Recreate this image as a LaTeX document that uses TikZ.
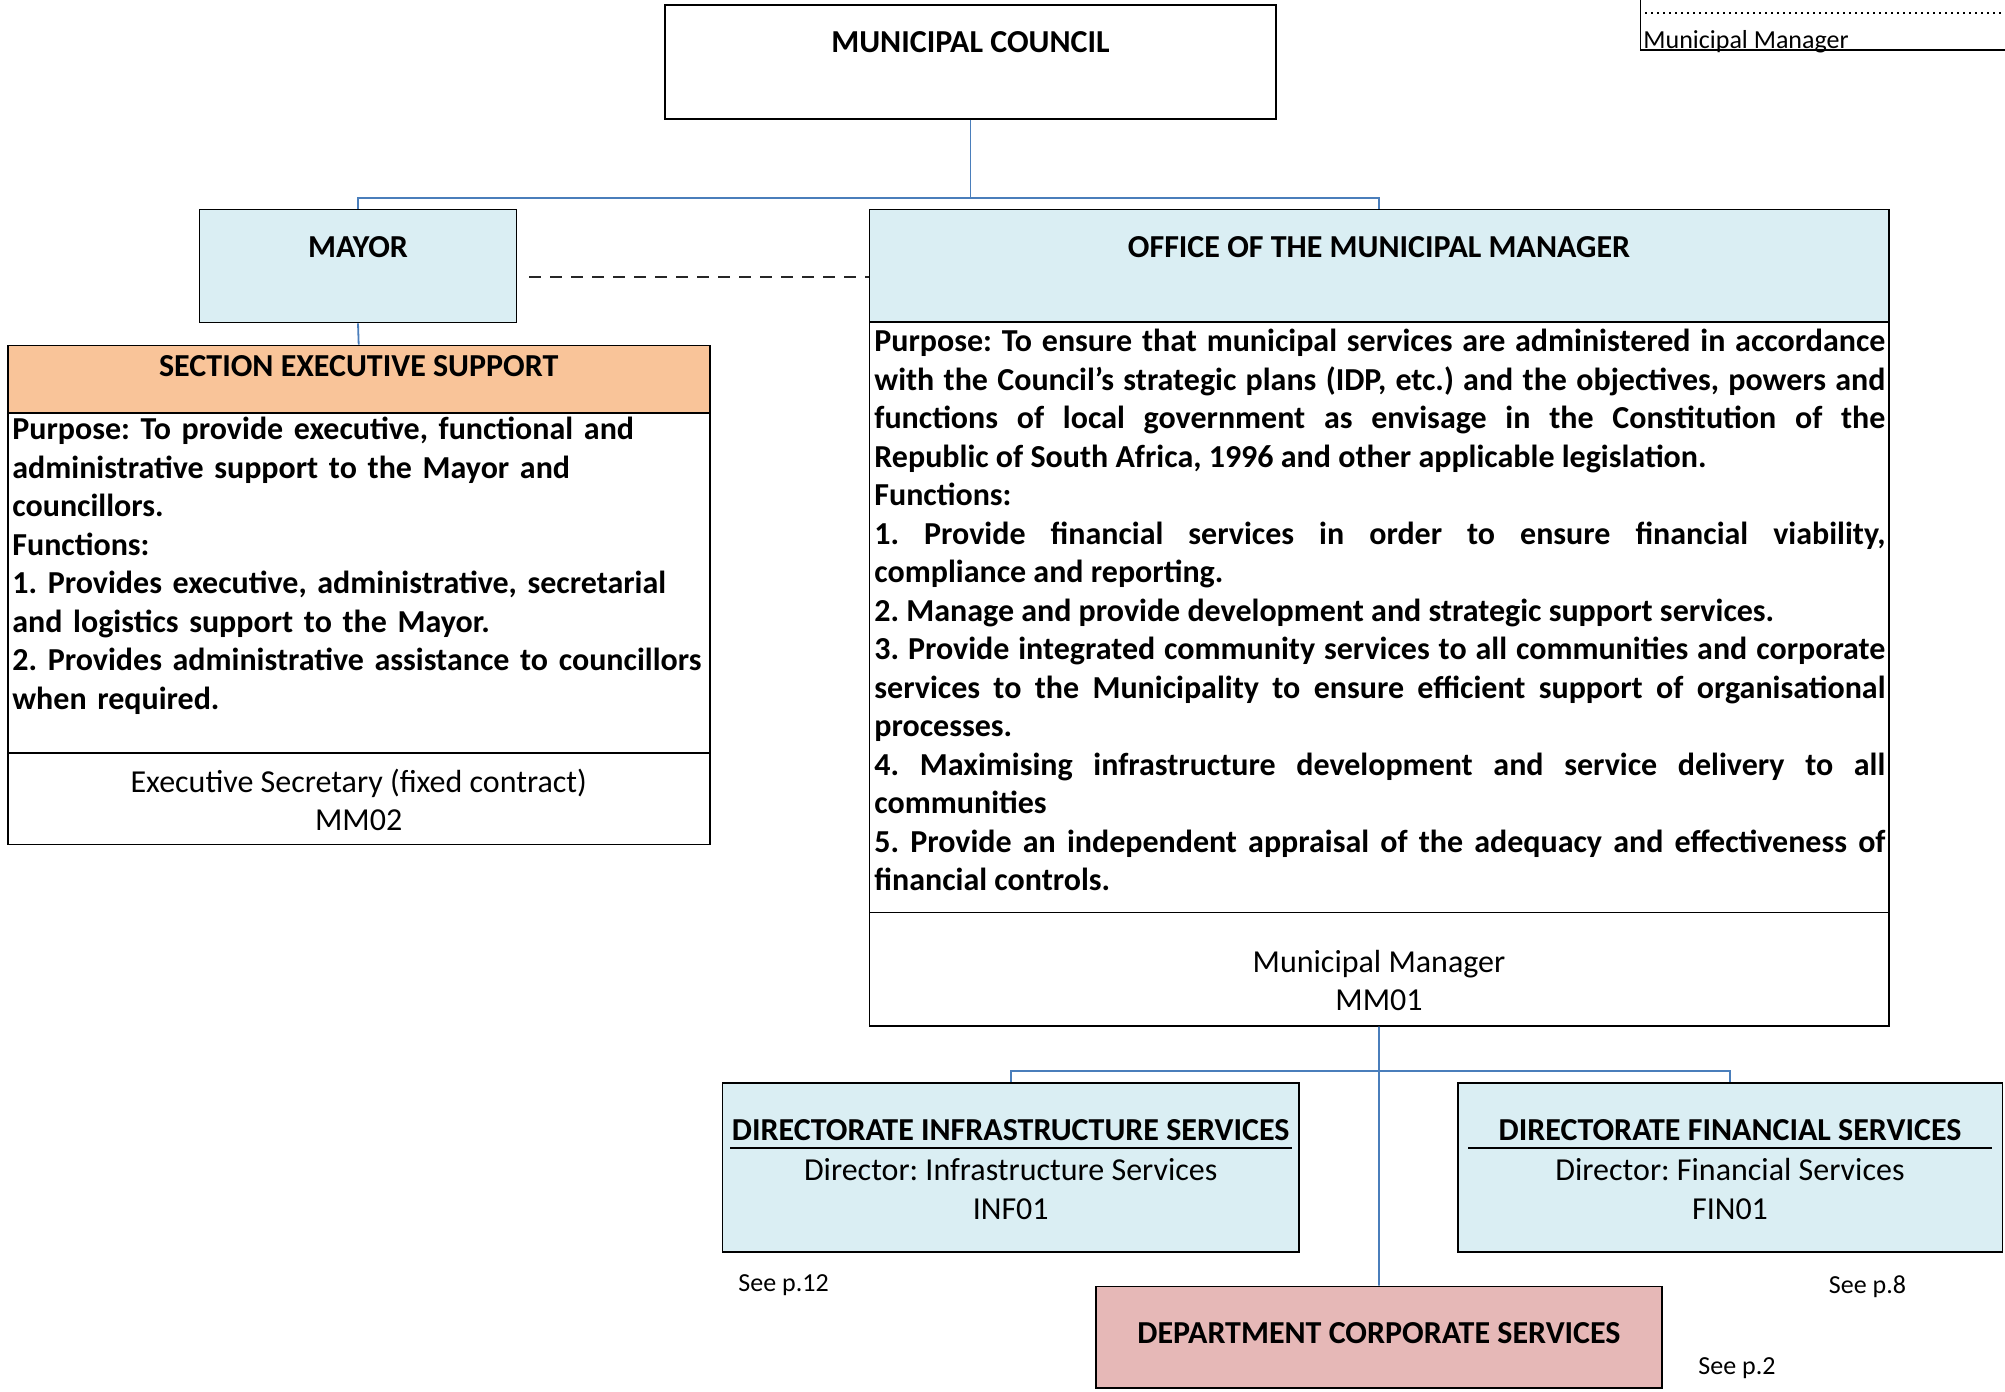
\documentclass[tikz,border=0pt]{standalone}
\usepackage{fontspec}
\setmainfont{Carlito}
\usetikzlibrary{fit,calc}
\definecolor{boxblue}{RGB}{218,238,243}
\definecolor{boxorange}{RGB}{249,196,153}
\definecolor{boxpink}{RGB}{230,184,183}
\definecolor{linkblue}{RGB}{74,126,187}
\frenchspacing
\begin{document}
\begin{tikzpicture}[
        x=0.5pt, y=-0.5pt,
        unit/.style={draw, line width=0.9pt, inner sep=0pt},
        title/.style={font=\bfseries\fontsize{16}{19.25}\selectfont, inner sep=0pt},
        plain/.style={font=\fontsize{16}{19.25}\selectfont, align=center, inner sep=0pt},
        duties/.style={font=\bfseries\fontsize{16}{19.25}\selectfont, inner sep=0pt, anchor=north west},
        note/.style={font=\fontsize{13}{15}\selectfont, inner sep=0pt, anchor=west},
        link/.style={draw=linkblue, line width=0.9pt},
        liaison/.style={draw=black!85, line width=0.7pt, dash pattern=on 6pt off 4.5pt}
    ]
        \useasboundingbox (0,0) rectangle (2005,1391);

        % Council and the two units under it
        \node[unit, fit={(665,5) (1276,119)}] (council) {};
        \node[title] (councilname) at (970.5,42) {MUNICIPAL COUNCIL};

        \node[unit, fill=boxblue, fit={(199.5,209.5) (516.5,322.5)}] (mayor) {};
        \node[title] (mayorname) at (358,247) {MAYOR};

        % Section Executive Support
        \node[unit, fill=boxorange, fit={(7.7,345.5) (709.7,413)}] (seshead) {};
        \node[title] (sesname) at (358.7,366) {SECTION EXECUTIVE SUPPORT};
        \node[unit, fit={(7.7,413) (709.7,753)}] (sesbody) {};
        \node[duties, text width=345pt, align=left] (sesduties) at (12,417) {Purpose: To provide executive, functional and\\
            administrative support to the Mayor and\\
            councillors.\\
            Functions:\\
            1. Provides executive, administrative, secretarial\\
            and logistics support to the Mayor.\\
            2. Provides administrative assistance to councillors\\
            when required.};
        \node[unit, fit={(7.7,753) (709.7,844.5)}] (sesfoot) {};
        \node[plain] (sespost) at (358.7,800) {Executive Secretary (fixed contract)\\MM02};

        % Office of the Municipal Manager
        \node[unit, fill=boxblue, fit={(869.5,209.5) (1888.6,322)}] (ommhead) {};
        \node[title] (ommname) at (1379,247) {OFFICE OF THE MUNICIPAL MANAGER};
        \node[unit, fit={(869.5,322) (1888.6,912.5)}] (ommbody) {};
        \node[duties, text width=505.5pt, align=justify] (ommduties) at (874,329) {\tolerance=9999
            Purpose: To ensure that municipal services are administered in accordance\linebreak
            with the Council’s strategic plans (IDP, etc.) and the objectives, powers and\linebreak
            functions of local government as envisage in the Constitution of the\linebreak
            Republic of South Africa, 1996 and other applicable legislation.\\
            Functions:\\
            1. Provide financial services in order to ensure financial viability,\linebreak
            compliance and reporting.\\
            2. Manage and provide development and strategic support services.\\
            3. Provide integrated community services to all communities and corporate\linebreak
            services to the Municipality to ensure efficient support of organisational\linebreak
            processes.\\
            4. Maximising infrastructure development and service delivery to all\linebreak
            communities\\
            5. Provide an independent appraisal of the adequacy and effectiveness of\linebreak
            financial controls.};
        \node[unit, fit={(869.5,912.5) (1888.6,1025.6)}] (ommfoot) {};
        \node[plain] (ommpost) at (1379,980.5) {Municipal Manager\\MM01};

        % Directorates
        \node[unit, fill=boxblue, fit={(722.5,1083) (1299,1252)}] (infra) {};
        \node[title] (infraname) at (1010.7,1130) {DIRECTORATE INFRASTRUCTURE SERVICES};
        \draw[line width=0.9pt] (730,1148) -- (1291.5,1148);
        \node[plain] (infrapost) at (1010.7,1189) {Director: Infrastructure Services\\INF01};

        \node[unit, fill=boxblue, fit={(1458,1083) (2002.5,1252)}] (finance) {};
        \node[title] (financename) at (1730,1130) {DIRECTORATE FINANCIAL SERVICES};
        \draw[line width=0.9pt] (1468,1148) -- (1992,1148);
        \node[plain] (financepost) at (1730,1189) {Director: Financial Services\\FIN01};

        \node[unit, fill=boxpink, fit={(1096,1286.5) (1662,1388)}] (corporate) {};
        \node[title] (corporatename) at (1379,1333) {DEPARTMENT CORPORATE SERVICES};

        % Page references
        \node[note] (infrapage) at (738,1285) {See p.12};
        \node[note] (financepage) at (1828.5,1287) {See p.8};
        \node[note] (corporatepage) at (1698,1368) {See p.2};

        % Signature strip, top right
        \draw[line width=0.8pt] (1640.5,0) -- (1640.5,50) -- (2005,50);
        \draw[dotted, line width=1pt] (1645,13) -- (2005,13);
        \node[note] (signature) at (1643,42) {Municipal Manager};

        % Connectors
        \coordinate (upperbus) at (970.5,198);
        \draw[link] (council.south) -- (upperbus);
        \draw[link] (upperbus) -| (mayor.north);
        \draw[link] (upperbus) -| (ommhead.north);
        \draw[link] (mayor.south) -- (seshead.north);
        \coordinate (dashstart) at (529,277);
        \draw[liaison] (dashstart) -- (dashstart -| ommhead.west);

        \coordinate (lowerbus) at (1379,1071);
        \draw[link] (ommfoot.south) -- (corporate.north);
        \draw[link] (lowerbus) -| (infra.north);
        \draw[link] (lowerbus) -| (finance.north);

    \end{tikzpicture}
\end{document}
